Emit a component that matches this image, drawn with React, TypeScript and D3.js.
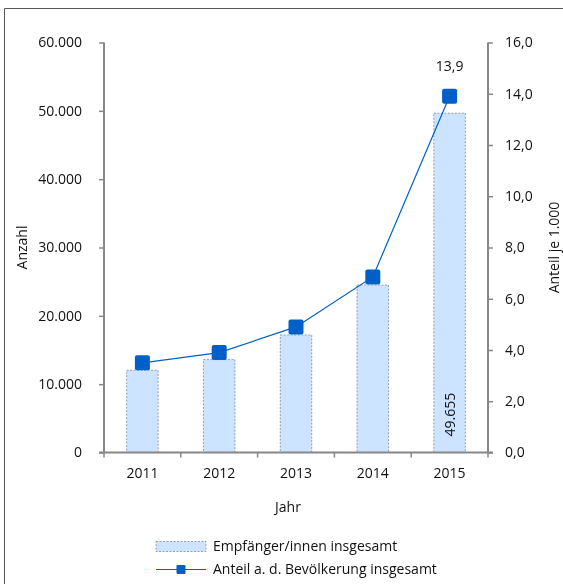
import React, { useRef, useEffect } from 'react';
import * as d3 from 'd3';

// Data
const years = ['2011', '2012', '2013', '2014', '2015'];
const recipients = [12030, 13600, 17200, 24500, 49655];
const sharePer1000 = [3.5, 3.9, 4.9, 6.85, 13.9];
const leftTicks = [0, 10000, 20000, 30000, 40000, 50000, 60000];
const rightTicks = [0, 2, 4, 6, 8, 10, 12, 14, 16];
const legendLabels = ['Empfänger/innen insgesamt', 'Anteil a. d. Bevölkerung insgesamt'];

const App = () => {
  const svgRef = useRef<SVGSVGElement>(null);

  useEffect(() => {
    d3.select(svgRef.current).selectAll('*').remove();

    const width = 563;
    const height = 584;
    const margin = { top: 42.5, right: 75, bottom: 131.5, left: 104 };
    const chartWidth = width - margin.left - margin.right;
    const chartHeight = height - margin.top - margin.bottom;
    const font = "'Open Sans', 'Noto Sans', sans-serif";
    const axisColor = '#878787';
    const blue = '#0060c8';

    const de = d3.formatLocale({
      decimal: ',',
      thousands: '.',
      grouping: [3],
      currency: ['', ' €'],
    });
    const fmtInt = de.format(',.0f');
    const fmtDec = de.format('.1f');

    const root = d3
      .select(svgRef.current)
      .attr('width', width)
      .attr('height', height)
      .style('font-family', font);

    // Frame (top and left edge only visible)
    root
      .append('path')
      .attr('d', `M4.5,${height} V8.5 H${width}`)
      .attr('fill', 'none')
      .attr('stroke', '#555')
      .attr('stroke-width', 1);

    const svg = root.append('g').attr('transform', `translate(${margin.left}, ${margin.top})`);

    // Scales
    const xScale = d3.scaleBand().domain(years).range([0, chartWidth]).paddingInner(0).paddingOuter(0);
    const yLeft = d3.scaleLinear().domain([0, 60000]).range([chartHeight, 0]);
    const yRight = d3.scaleLinear().domain([0, 16]).range([chartHeight, 0]);
    const barWidth = xScale.bandwidth() * 0.41;

    // Bars
    svg
      .selectAll('.bar')
      .data(recipients)
      .enter()
      .append('rect')
      .attr('x', (_, i) => xScale(years[i])! + xScale.bandwidth() / 2 - barWidth / 2)
      .attr('y', (d) => yLeft(d))
      .attr('width', barWidth)
      .attr('height', (d) => chartHeight - yLeft(d))
      .attr('fill', '#cce4ff')
      .attr('stroke', '#7f8a99')
      .attr('stroke-width', 0.8)
      .attr('stroke-dasharray', '2,1.5');

    // Left axis
    const leftAxis = svg
      .append('g')
      .call(d3.axisLeft(yLeft).tickValues(leftTicks).tickSize(5).tickPadding(17).tickFormat((d) => fmtInt(d as number)));
    // Right axis
    const rightAxis = svg
      .append('g')
      .attr('transform', `translate(${chartWidth}, 0)`)
      .call(d3.axisRight(yRight).tickValues(rightTicks).tickSize(5).tickPadding(12).tickFormat((d) => fmtDec(d as number)));
    // Bottom axis
    const bottomAxis = svg
      .append('g')
      .attr('transform', `translate(0, ${chartHeight})`)
      .call(d3.axisBottom(xScale).tickSize(0).tickPadding(16));

    [leftAxis, rightAxis, bottomAxis].forEach((ax) => {
      ax.selectAll('path.domain').attr('stroke', axisColor).attr('stroke-width', 2);
      ax.selectAll('line').attr('stroke', axisColor).attr('stroke-width', 1.5);
      ax.selectAll('text').attr('fill', '#111').style('font-size', '14px').style('font-family', font);
    });
    leftAxis.select('path.domain').attr('d', `M0,0V${chartHeight}`);
    rightAxis.select('path.domain').attr('d', `M0,0V${chartHeight}`);
    bottomAxis.select('path.domain').attr('d', `M-5,0H${chartWidth + 5}`);

    // Category boundary ticks on x axis
    svg
      .append('g')
      .selectAll('line')
      .data(d3.range(years.length + 1))
      .enter()
      .append('line')
      .attr('x1', (i) => i * xScale.step())
      .attr('x2', (i) => i * xScale.step())
      .attr('y1', chartHeight)
      .attr('y2', chartHeight + 5)
      .attr('stroke', axisColor)
      .attr('stroke-width', 1.5);

    // Line
    const line = d3
      .line<number>()
      .x((_, i) => xScale(years[i])! + xScale.bandwidth() / 2)
      .y((d) => yRight(d));

    svg
      .append('path')
      .datum(sharePer1000)
      .attr('d', line)
      .attr('fill', 'none')
      .attr('stroke', blue)
      .attr('stroke-width', 1.2);

    const markerSize = 15;
    svg
      .selectAll('.marker')
      .data(sharePer1000)
      .enter()
      .append('rect')
      .attr('x', (_, i) => xScale(years[i])! + xScale.bandwidth() / 2 - markerSize / 2)
      .attr('y', (d) => yRight(d) - markerSize / 2)
      .attr('width', markerSize)
      .attr('height', markerSize)
      .attr('rx', 2)
      .attr('fill', blue);

    // Data labels
    const lastX = xScale(years[4])! + xScale.bandwidth() / 2;
    svg
      .append('text')
      .attr('x', lastX)
      .attr('y', yRight(sharePer1000[4]) - 25)
      .attr('text-anchor', 'middle')
      .style('font-size', '14px')
      .attr('fill', '#111')
      .text(fmtDec(sharePer1000[4]));

    svg
      .append('text')
      .attr('transform', `translate(${lastX + 5}, ${chartHeight - 16}) rotate(-90)`)
      .attr('text-anchor', 'start')
      .style('font-size', '14px')
      .attr('fill', '#111')
      .text(fmtInt(recipients[4]));

    // Axis titles
    root
      .append('text')
      .attr('transform', `translate(27, ${margin.top + chartHeight / 2}) rotate(-90)`)
      .attr('text-anchor', 'middle')
      .style('font-size', '14px')
      .attr('fill', '#111')
      .text('Anzahl');

    root
      .append('text')
      .attr('transform', `translate(559, ${margin.top + chartHeight / 2}) rotate(-90)`)
      .attr('text-anchor', 'middle')
      .style('font-size', '14px')
      .attr('fill', '#111')
      .text('Anteil je 1.000');

    root
      .append('text')
      .attr('x', 288)
      .attr('y', 512)
      .attr('text-anchor', 'middle')
      .style('font-size', '14px')
      .attr('fill', '#111')
      .text('Jahr');

    // Legend
    const legend = root.append('g').attr('transform', 'translate(156, 0)');
    legend
      .append('rect')
      .attr('x', 0)
      .attr('y', 541.5)
      .attr('width', 50)
      .attr('height', 10)
      .attr('fill', '#cce4ff')
      .attr('stroke', '#7f8a99')
      .attr('stroke-width', 0.8)
      .attr('stroke-dasharray', '2,1.5');
    legend
      .append('line')
      .attr('x1', 0)
      .attr('x2', 50)
      .attr('y1', 569.5)
      .attr('y2', 569.5)
      .attr('stroke', blue)
      .attr('stroke-width', 1.2);
    legend
      .append('rect')
      .attr('x', 25 - 4.5)
      .attr('y', 569.5 - 4.5)
      .attr('width', 9)
      .attr('height', 9)
      .attr('rx', 1)
      .attr('fill', blue);
    legend
      .selectAll('.legend-text')
      .data(legendLabels)
      .enter()
      .append('text')
      .attr('x', 57)
      .attr('y', (_, i) => 551 + i * 23)
      .style('font-size', '14px')
      .attr('fill', '#111')
      .text((d) => d);
  }, []);

  return (
    <div style={{ position: 'fixed', left: 0, top: 0 }}>
      <svg ref={svgRef} style={{ display: 'block' }} />
    </div>
  );
};

export default App;
